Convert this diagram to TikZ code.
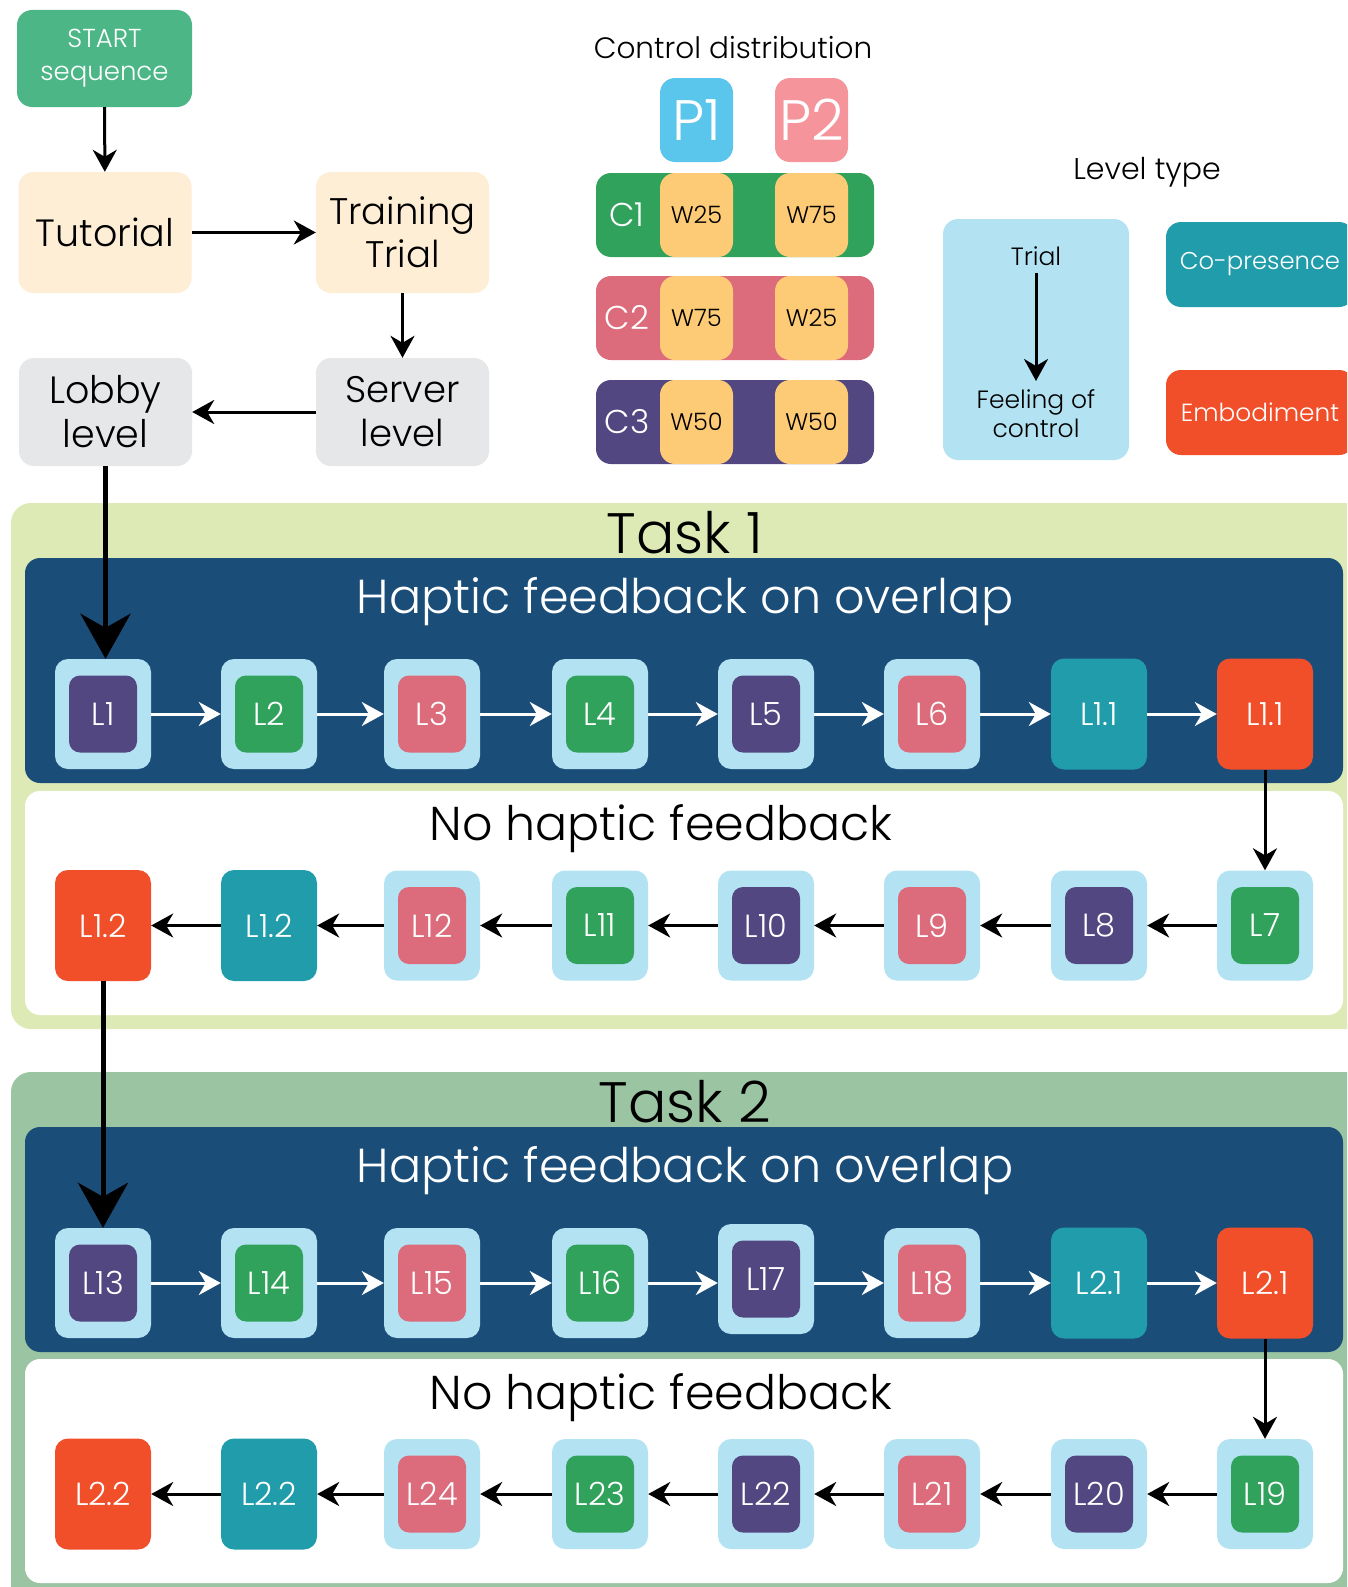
\documentclass[tikz,border=0pt]{standalone}
\usepackage{fontspec}
\setmainfont{Poppins Light}
\usetikzlibrary{arrows.meta}
\definecolor{startg}{HTML}{4DB686}
\definecolor{cream}{HTML}{FEEED5}
\definecolor{lgray}{HTML}{E6E7E8}
\definecolor{pone}{HTML}{5BC6EC}
\definecolor{ptwo}{HTML}{F5959B}
\definecolor{wyel}{HTML}{FDCA76}
\definecolor{cgreen}{HTML}{30A25B}
\definecolor{cpink}{HTML}{DC6B7B}
\definecolor{cpurp}{HTML}{524780}
\definecolor{lblue}{HTML}{B3E3F3}
\definecolor{ctealc}{HTML}{219CAB}
\definecolor{orng}{HTML}{F04F2A}
\definecolor{taskone}{HTML}{DDEAB6}
\definecolor{tasktwo}{HTML}{9BC4A3}
\definecolor{dblue}{HTML}{1B4D79}
\newcommand\fs[1]{\fontsize{#1}{#1}\selectfont}
\tikzset{
  boxb/.style={rounded corners=15pt, inner sep=0pt, align=center},
  outerlb/.style={boxb, fill=lblue, minimum width=96pt, minimum height=110pt, rounded corners=13pt},
  innerb/.style={boxb, minimum width=68pt, minimum height=77pt, rounded corners=11pt, text=white, font=\fs{32}},
  solidb/.style={boxb, minimum width=96pt, minimum height=111pt, rounded corners=13pt, text=white, font=\fs{32}},
  bk/.style={line width=3pt, -{Stealth[length=22pt,width=24pt,inset=7pt]}},
  wa/.style={bk, white},
  bigarrow/.style={line width=5pt, -{Stealth[length=45pt,width=50pt,inset=14pt]}},
  flowbox/.style={boxb, minimum width=173pt, text=black},
}
\newcommand\lvlbox[5]{\node[outerlb] (#1) at (#2,#3) {}; \node[innerb, fill=#4] (#1i) at (#2,#3) {#5};}
\newcommand\lvlsolid[5]{\node[solidb, fill=#4] (#1) at (#2,#3) {#5};}
\begin{document}
\begin{tikzpicture}[x=1pt,y=-1pt]
\useasboundingbox (0,0) rectangle (1347,1587);
\clip (0,0) rectangle (1347,1587);
\fill[white] (0,0) rectangle (1347,1587);

% ---------- top flow ----------
\node[flowbox, fill=startg, minimum width=175pt, minimum height=97pt, text=white, font=\fontsize{26}{33}\selectfont] (start) at (104.5,58.5) {START\\sequence};
\node[flowbox, fill=cream, minimum height=121pt, font=\fs{38}] (tut) at (105,232.5) {Tutorial};
\node[flowbox, fill=cream, minimum height=121pt, font=\fontsize{37}{43}\selectfont] (train) at (402.5,232.5) {Training\\Trial};
\node[flowbox, fill=lgray, minimum height=108pt, font=\fontsize{38}{44}\selectfont] (lobby) at (105.5,412) {Lobby\\level};
\node[flowbox, fill=lgray, minimum height=108pt, font=\fontsize{37}{44}\selectfont] (server) at (402.5,412) {Server\\level};
\draw[bk] (start) -- (tut);
\draw[bk] (tut) -- (train);
\draw[bk] (train) -- (server);
\draw[bk] (server) -- (lobby);

% ---------- control distribution ----------
\node[font=\fs{29.5}] (cdt) at (733,48) {Control distribution};
\node[boxb, fill=pone, minimum width=73pt, minimum height=84pt, text=white, font=\fs{57}] (p1) at (696.5,120) {P1};
\node[boxb, fill=ptwo, minimum width=73pt, minimum height=84pt, text=white, font=\fs{57}] (p2) at (811.5,120) {P2};
\foreach \n/\c/\y/\wa/\wb in {1/cgreen/215/25/75, 2/cpink/318/75/25, 3/cpurp/422/50/50}{
  \node[boxb, fill=\c, minimum width=278pt, minimum height=84pt] (c\n) at (735,\y) {};
  \node[text=white, font=\fs{33}] (cl\n) at (627,\y) {C\n};
  \node[boxb, fill=wyel, minimum width=73pt, minimum height=84pt, font=\fs{24}] (wa\n) at (696.5,\y) {W\wa};
  \node[boxb, fill=wyel, minimum width=73pt, minimum height=84pt, font=\fs{24}] (wb\n) at (811.5,\y) {W\wb};
}

% ---------- level type ----------
\node[font=\fs{30}] (ltt) at (1147,172) {Level type};
\node[boxb, fill=lblue, minimum width=186pt, minimum height=241pt] (trialbox) at (1036,339.5) {};
\node[font=\fs{25}] (trial) at (1036,256) {Trial};
\node[font=\fontsize{25}{29}\selectfont, align=center] (feel) at (1036,414) {Feeling of\\control};
\coordinate (fctip) at (1036,381);
\draw[bk, shorten <=4pt] (trial.south) -- (fctip);
\node[boxb, fill=ctealc, minimum width=188pt, minimum height=85pt, text=white, font=\fs{24.3}] (copres) at (1260,264.5) {Co-presence};
\node[boxb, fill=orng, minimum width=188pt, minimum height=85pt, text=white, font=\fs{24.8}] (embod) at (1260,412.5) {Embodiment};

% ---------- Task 1 ----------
\fill[taskone, rounded corners=20pt] (11,503) rectangle (1375,1029);
\fill[dblue, rounded corners=15pt] (25,558) rectangle (1343,783);
\fill[white, rounded corners=15pt] (25,791) rectangle (1343,1015);
\node[anchor=base, font=\fs{57}] (t1) at (685,553) {Task 1};
\node[anchor=base, text=white, font=\fs{47.7}] (h1) at (685,613) {Haptic feedback on overlap};
\node[anchor=base, font=\fs{47.5}] (n1) at (661,840) {No haptic feedback};

\lvlbox{a1}{103}{714}{cpurp}{L1}
\lvlbox{a2}{269}{714}{cgreen}{L2}
\lvlbox{a3}{432}{714}{cpink}{L3}
\lvlbox{a4}{600}{714}{cgreen}{L4}
\lvlbox{a5}{766}{714}{cpurp}{L5}
\lvlbox{a6}{932}{714}{cpink}{L6}
\lvlsolid{a7}{1099}{714}{ctealc}{L1.1}
\lvlsolid{a8}{1265}{714}{orng}{L1.1}
\foreach \i [evaluate=\i as \j using int(\i+1)] in {1,...,7}{\draw[wa] (a\i) -- (a\j);}

\lvlbox{b1}{1265}{925.5}{cgreen}{L7}
\lvlbox{b2}{1099}{925.5}{cpurp}{L8}
\lvlbox{b3}{932}{925.5}{cpink}{L9}
\lvlbox{b4}{766}{925.5}{cpurp}{L10}
\lvlbox{b5}{600}{925.5}{cgreen}{L11}
\lvlbox{b6}{432}{925.5}{cpink}{L12}
\lvlsolid{b7}{269}{925.5}{ctealc}{L1.2}
\lvlsolid{b8}{103}{925.5}{orng}{L1.2}
\foreach \i [evaluate=\i as \j using int(\i+1)] in {1,...,7}{\draw[bk] (b\i) -- (b\j);}
\draw[bk] (a8) -- (b1);

% ---------- Task 2 ----------
\fill[tasktwo, rounded corners=20pt] (11,1072) rectangle (1375,1620);
\fill[dblue, rounded corners=15pt] (25,1127) rectangle (1343,1352);
\fill[white, rounded corners=15pt] (25,1359) rectangle (1343,1583);
\node[anchor=base, font=\fs{57}] (t2) at (685,1122) {Task 2};
\node[anchor=base, text=white, font=\fs{47.7}] (h2) at (685,1182) {Haptic feedback on overlap};
\node[anchor=base, font=\fs{47.5}] (n2) at (661,1409) {No haptic feedback};

\lvlbox{c1}{103}{1283}{cpurp}{L13}
\lvlbox{c2}{269}{1283}{cgreen}{L14}
\lvlbox{c3}{432}{1283}{cpink}{L15}
\lvlbox{c4}{600}{1283}{cgreen}{L16}
\lvlbox{c5}{766}{1279}{cpurp}{L17}
\lvlbox{c6}{932}{1283}{cpink}{L18}
\lvlsolid{c7}{1099}{1283}{ctealc}{L2.1}
\lvlsolid{c8}{1265}{1283}{orng}{L2.1}
\foreach \i [evaluate=\i as \j using int(\i+1)] in {1,...,7}{\draw[wa] (c\i.east |- c1) -- (c\j.west |- c1);}

\lvlbox{d1}{1265}{1494}{cgreen}{L19}
\lvlbox{d2}{1099}{1494}{cpurp}{L20}
\lvlbox{d3}{932}{1494}{cpink}{L21}
\lvlbox{d4}{766}{1494}{cpurp}{L22}
\lvlbox{d5}{600}{1494}{cgreen}{L23}
\lvlbox{d6}{432}{1494}{cpink}{L24}
\lvlsolid{d7}{269}{1494}{ctealc}{L2.2}
\lvlsolid{d8}{103}{1494}{orng}{L2.2}
\foreach \i [evaluate=\i as \j using int(\i+1)] in {1,...,7}{\draw[bk] (d\i) -- (d\j);}
\draw[bk] (c8) -- (d1);

% ---------- long arrows ----------
\draw[bigarrow] (lobby.south) -- (lobby.south |- a1.north);
\draw[bigarrow] (b8.south) -- (c1.north);
\end{tikzpicture}
\end{document}
